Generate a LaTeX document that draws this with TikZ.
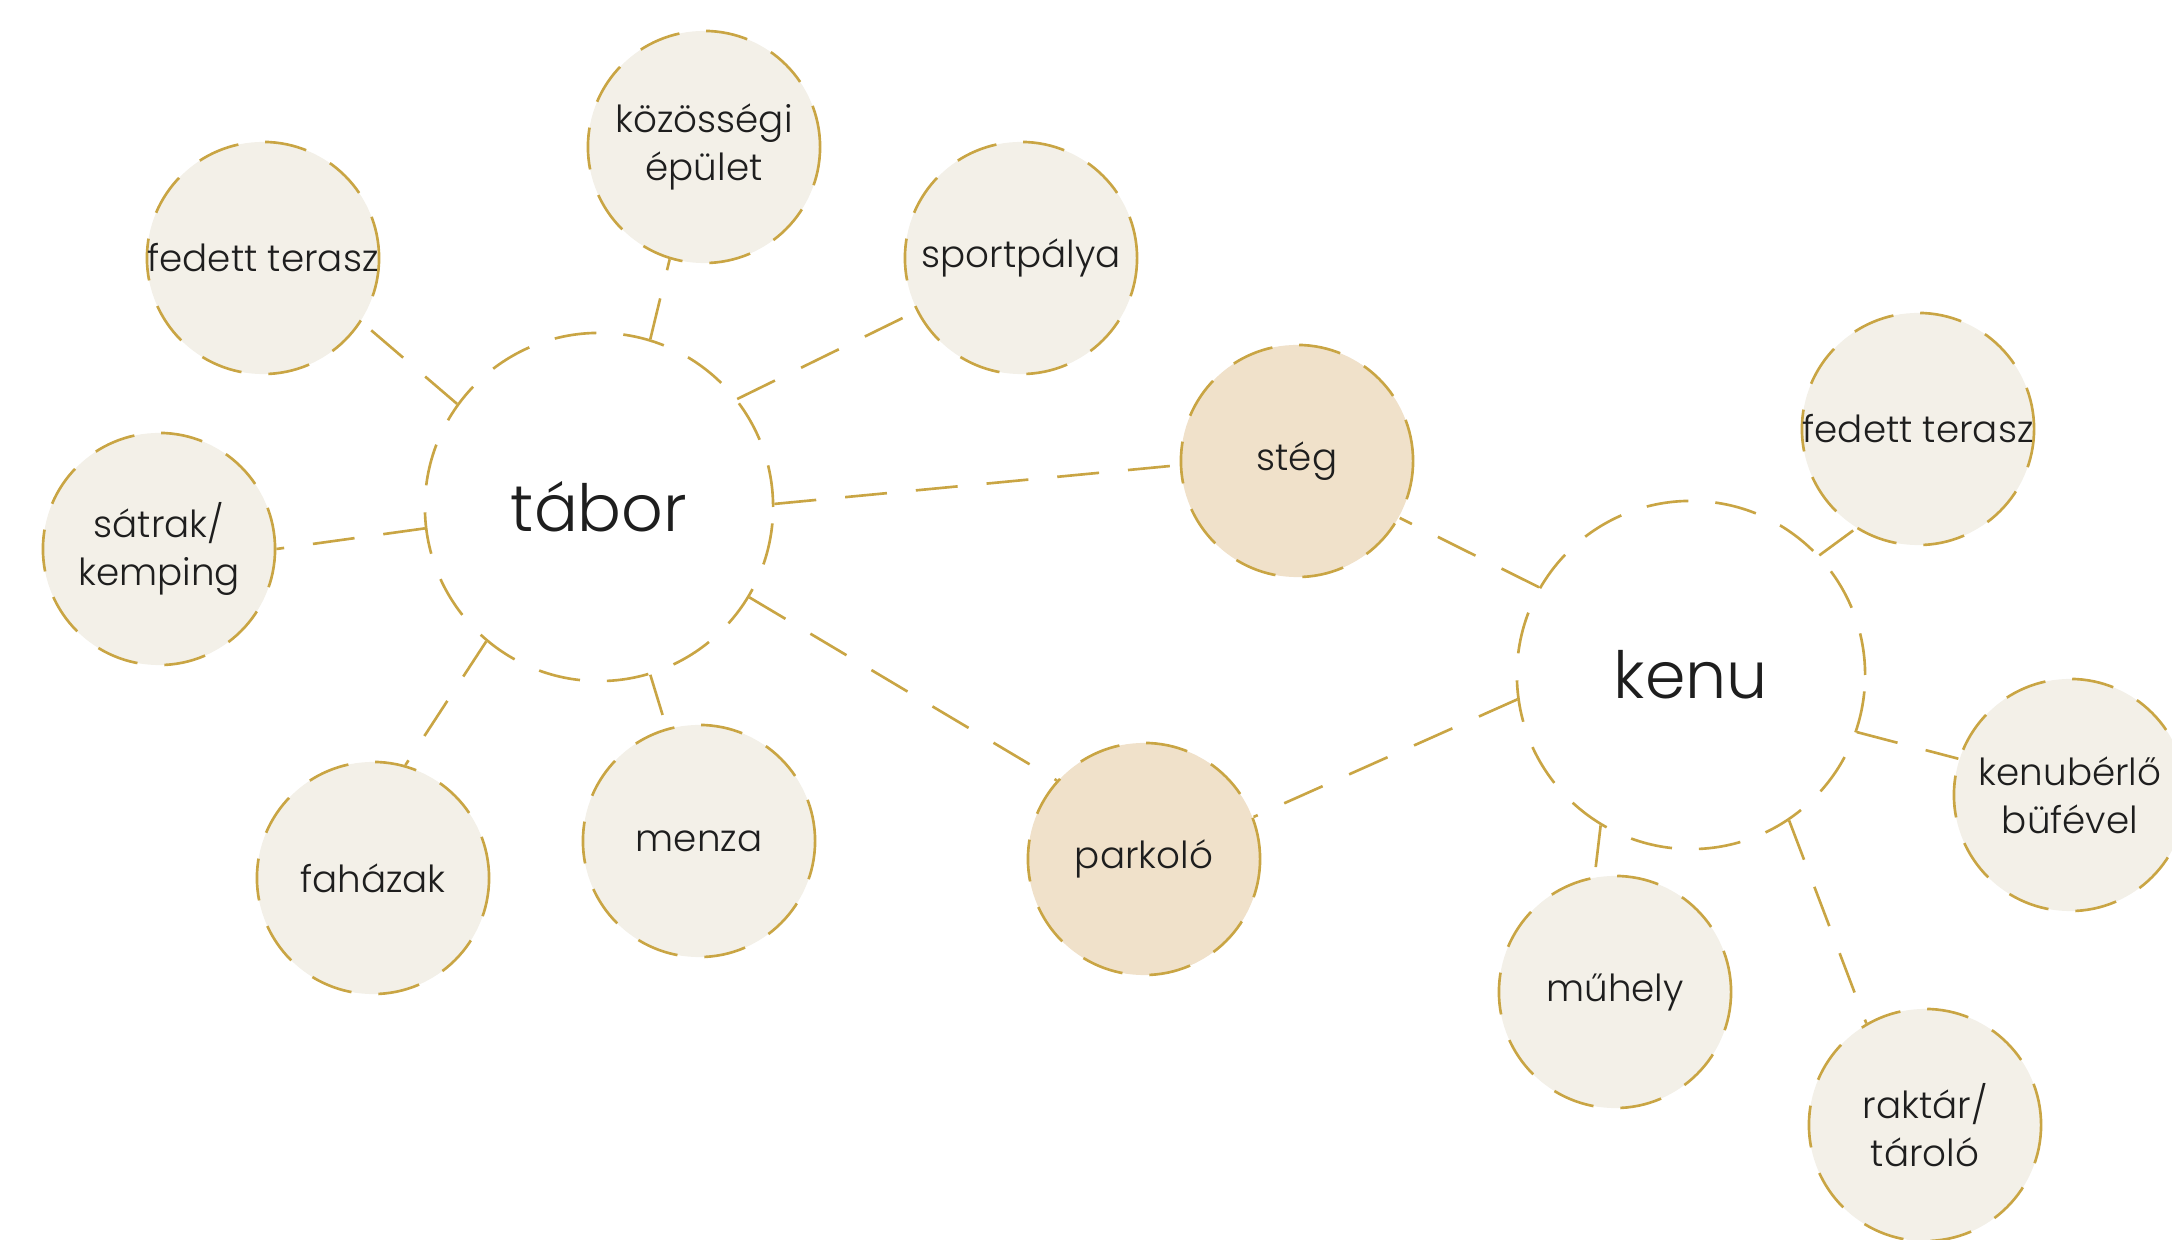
\documentclass[tikz,border=0pt]{standalone}
\usepackage{fontspec}
\setmainfont{Poppins}[UprightFont={* Light}]
\definecolor{gold}{HTML}{C9A544}
\definecolor{bubfill}{HTML}{F3F0E8}
\definecolor{keyfill}{HTML}{F0E1CA}
\definecolor{txt}{HTML}{1E1E1E}
\begin{document}
\begin{tikzpicture}[x=0.01cm,y=-0.01cm,
  bub/.style={circle, draw=gold, line width=0.75pt, dash pattern=on 4.2mm off 2.7mm,
    fill=bubfill, minimum size=23.2mm, inner sep=0pt, align=center,
    font=\fontsize{10.6}{13.6}\selectfont, text=txt},
  hub/.style={bub, fill=white, minimum size=34.8mm, font=\fontsize{18.5}{22}\selectfont},
  keybub/.style={bub, fill=keyfill},
  link/.style={draw=gold, line width=0.75pt, dash pattern=on 4.2mm off 2.9mm}]
\useasboundingbox (0,0) rectangle (2172,1240);
\clip (0,0) rectangle (2172,1240);
\node[hub] (tabor) at (599,507) {tábor};
\node[hub] (kenu) at (1691,675) {kenu};
\node[bub] (koz) at (704,147) {közösségi\\épület};
\node[bub] (fedL) at (263,258) {fedett terasz};
\node[bub] (sport) at (1021,258) {sportpálya};
\node[bub] (sat) at (159,549) {sátrak/\\kemping};
\node[bub] (fah) at (373,878) {faházak};
\node[bub] (menza) at (699,841) {menza};
\node[keybub] (steg) at (1297,461) {stég};
\node[keybub] (park) at (1144,859) {parkoló};
\node[bub] (fedR) at (1918,429) {fedett terasz};
\node[bub] (kb) at (2070,795) {kenubérlő\\büfével};
\node[bub] (muh) at (1615,992) {műhely};
\node[bub] (rak) at (1925,1125) {raktár/\\tároló};
\draw[link] (tabor.73) -- (koz.253);
\draw[link] (tabor.144) -- (fedL.-33);
\draw[link] (tabor.38) -- (sport.207);
\draw[link] (tabor.187) -- (sat.0);
\draw[link] (tabor.230) -- (fah.74);
\draw[link] (tabor.287) -- (menza.106);
\draw[link] (tabor.1) -- (steg.182);
\draw[link] (tabor.-31) -- (park.138);
\draw[link] (kenu.150) -- (steg.-29);
\draw[link] (kenu.188) -- (park.21);
\draw[link] (kenu.43) -- (fedR.238);
\draw[link] (kenu.-19) -- (kb.162);
\draw[link] (kenu.239) -- (muh.100);
\draw[link] (kenu.304) -- (rak.120);
\end{tikzpicture}
\end{document}
